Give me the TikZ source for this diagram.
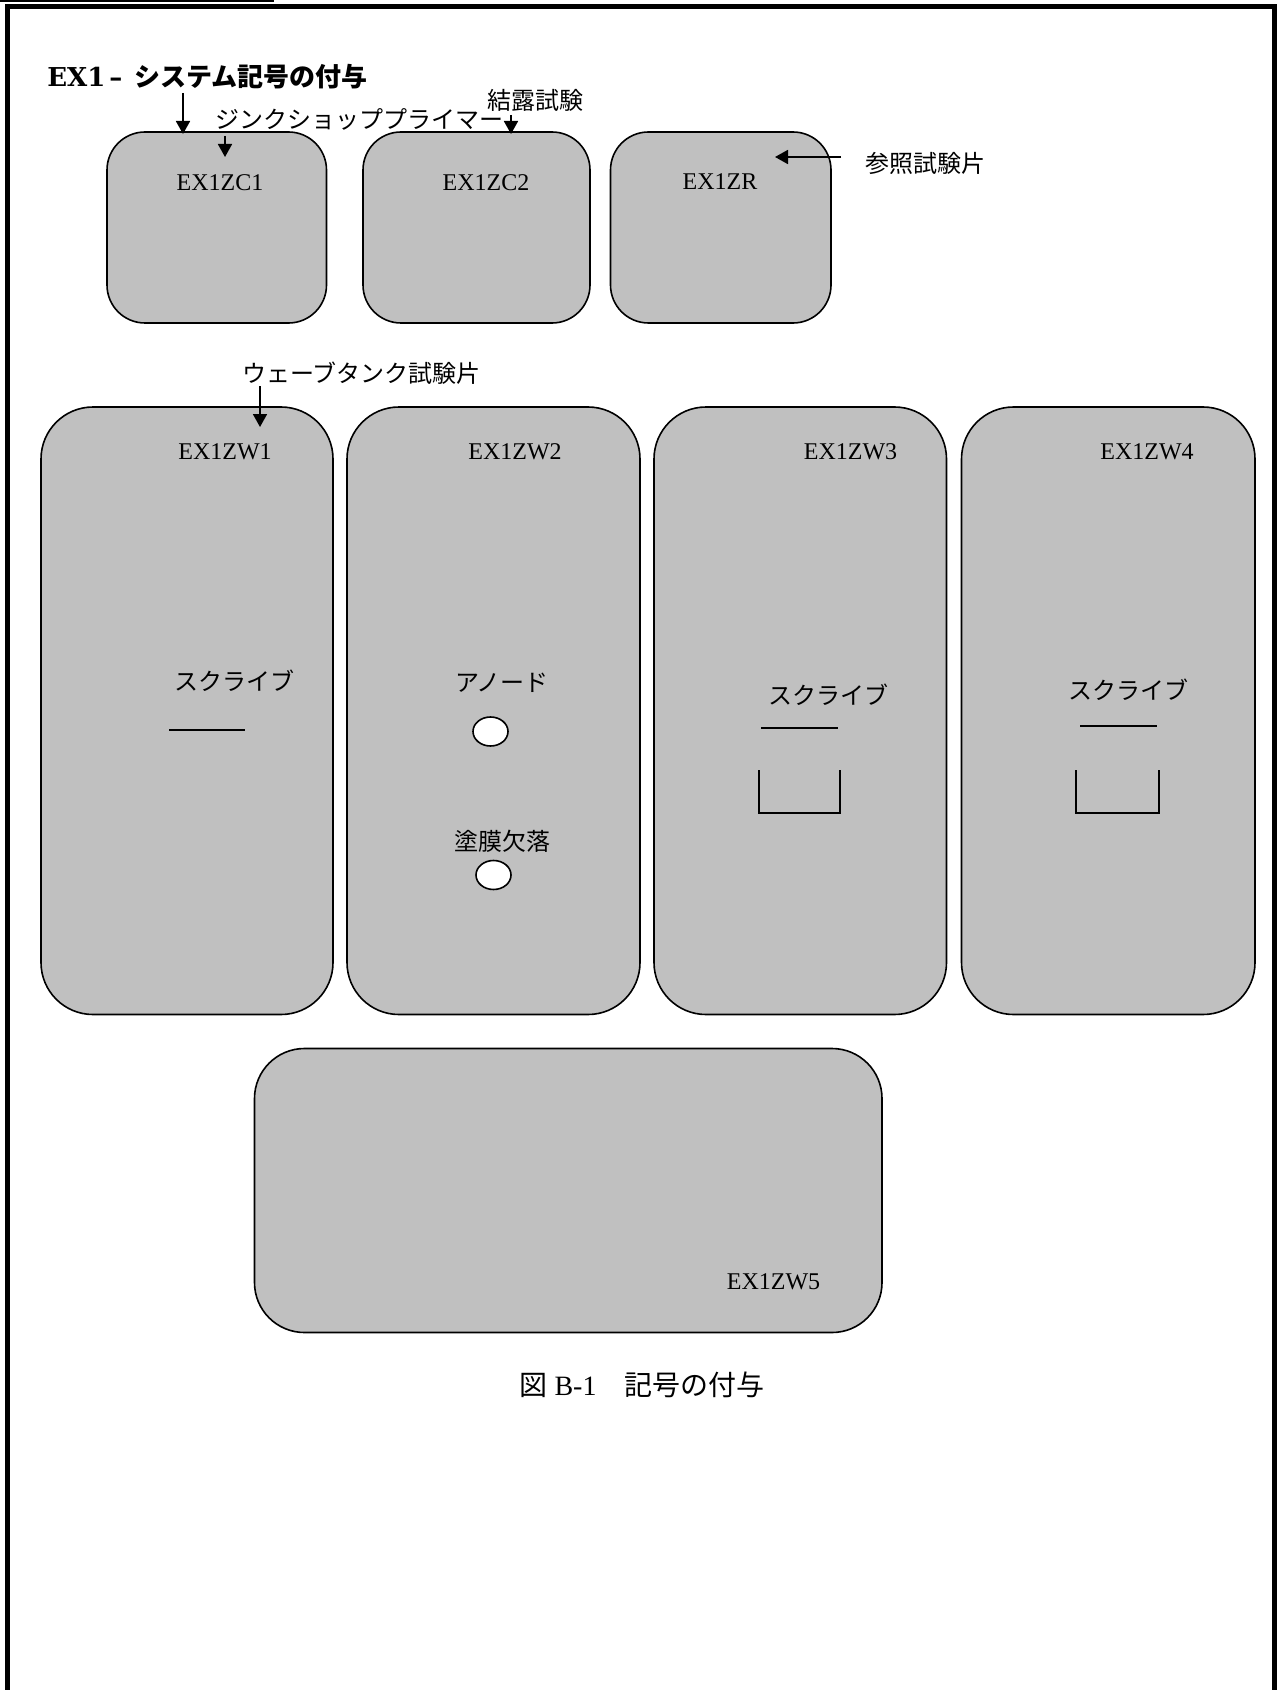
\documentclass[tikz,border=0pt]{standalone}
\usepackage{fontspec}
\setmainfont{Liberation Serif}
\newfontfamily\jp{Noto Sans CJK JP}
\newfontfamily\dvs{DejaVu Serif}
\usetikzlibrary{arrows.meta,shapes.geometric}
\definecolor{boxgray}{RGB}{192,192,192}
\begin{document}
\begin{tikzpicture}[x=0.5pt,y=-0.5pt,
  every node/.style={inner sep=0pt, font=\fontsize{12pt}{14pt}\selectfont},
  panel/.style={draw=black, line width=0.8pt, fill=boxgray, rectangle, rounded corners=#1},
  panel/.default=19pt,
  hole/.style={draw=black, line width=0.8pt, fill=white, ellipse, minimum width=17.5pt, minimum height=14.5pt},
  arr/.style={line width=0.9pt, -{Triangle[length=6.5pt,width=7pt]}},
  scribe/.style={line width=1pt},
  frame/.style={line width=2.5pt, line join=miter}
]
\useasboundingbox (0,0) rectangle (1277,1690);
% frame
\draw[frame] (7.5,1700) -- (7.5,6.5) -- (1274,6.5) -- (1274,1700);
\draw[line width=0.6pt] (0,1) -- (274,1);

% title
\node[anchor=west, font=\fontsize{13pt}{15pt}\selectfont] (title) at (47,77) {{\dvs\bfseries EX1\kern2pt–\kern6pt}{\jp\bfseries システム記号の付与}};

% small panels
\node[panel, minimum width=109.75pt, minimum height=95.5pt] (ZC1) at (216.75,227.5) {};
\node[panel, minimum width=113.5pt, minimum height=95.5pt] (ZC2) at (476.5,227.5) {};
\node[panel, minimum width=110.25pt, minimum height=95.5pt] (ZR) at (720.75,227.5) {};

\node (lZC1) at (220,183) {EX1ZC1};
\node (lZC2) at (486,183) {EX1ZC2};
\node (lZR) at (720,182) {EX1ZR};

% labels top
\node (tzinc) at (359,119) {\jp ジンクショッププライマー};
\node (tdew) at (535,100) {\jp 結露試験};
\node (tref) at (925,163) {\jp 参照試験片};

\coordinate (a1s) at (183,93);
\coordinate (a1e) at (183,134);
\coordinate (a2s) at (225,136);
\coordinate (a2e) at (225,157);
\coordinate (a3s) at (511,115);
\coordinate (a3e) at (511,134);
\coordinate (a4s) at (841,157);
\coordinate (a4e) at (775,157);
\draw[arr] (a1s) -- (a1e);
\draw[arr] (a2s) -- (a2e);
\draw[arr] (a3s) -- (a3e);
\draw[arr] (a4s) -- (a4e);

% wave tank panels
\node[panel=26pt, minimum width=146pt, minimum height=303.75pt] (ZW1) at (187,710.75) {};
\node[panel=26pt, minimum width=146.5pt, minimum height=303.75pt] (ZW2) at (493.5,710.75) {};
\node[panel=26pt, minimum width=146.25pt, minimum height=303.75pt] (ZW3) at (800.25,710.75) {};
\node[panel=26pt, minimum width=146.75pt, minimum height=303.75pt] (ZW4) at (1108.25,710.75) {};

\node (twave) at (361.5,373) {\jp ウェーブタンク試験片};
\coordinate (a5s) at (260,386);
\coordinate (a5e) at (260,427);
\draw[arr] (a5s) -- (a5e);

\node (lZW1) at (225,452) {EX1ZW1};
\node (lZW2) at (515,452) {EX1ZW2};
\node (lZW3) at (850.5,452) {EX1ZW3};
\node (lZW4) at (1147,452) {EX1ZW4};

% ZW1 contents
\node (s1) at (234,681) {\jp スクライブ};
\draw[scribe] (169,730) -- (245,730);

% ZW2 contents
\node (anode) at (502,683) {\jp アノード};
\node[hole] (h1) at (490.5,731.5) {};
\node (defect) at (502,841) {\jp 塗膜欠落};
\node[hole] (h2) at (493.5,875) {};

% ZW3 contents
\node (s3) at (828,695) {\jp スクライブ};
\draw[scribe] (761,728) -- (838,728);
\draw[scribe] (759,770) -- (759,813) -- (840,813) -- (840,770);

% ZW4 contents
\node (s4) at (1128,690) {\jp スクライブ};
\draw[scribe] (1080,726) -- (1157,726);
\draw[scribe] (1076,770) -- (1076,813) -- (1159,813) -- (1159,770);

% big panel
\node[panel=25pt, minimum width=313.75pt, minimum height=142pt] (ZW5) at (568.25,1190.5) {};
\node (lZW5) at (773.5,1282) {EX1ZW5};

% caption
\node[font=\fontsize{14pt}{16pt}\selectfont] (cap) at (642,1385) {{\jp 図} B-1{\jp 　記号の付与}};
\end{tikzpicture}
\end{document}
